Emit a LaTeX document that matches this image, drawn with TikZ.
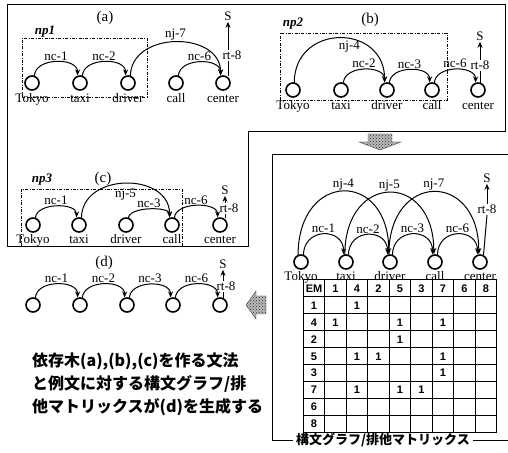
\documentclass[tikz,border=0pt]{standalone}
\usepackage{fontspec}
\setmainfont{Liberation Serif}
\setsansfont{Liberation Sans}
\newfontfamily\jpfont{Noto Sans CJK JP}
\usetikzlibrary{arrows.meta, positioning, matrix, patterns}

\tikzset{
    wnode/.style={circle, draw, line width=1.6pt, minimum size=14pt, inner sep=0pt, outer sep=0pt},
    word/.style={font=\fontsize{13}{14}\selectfont, inner sep=1pt, text height=8.5pt, text depth=2.5pt},
    lbl/.style={font=\fontsize{13}{14}\selectfont, inner sep=1pt},
    deparc/.style={-{Stealth[length=6pt,width=5pt]}, line width=1pt, shorten >=1pt, looseness=1.15},
    rtline/.style={line width=1pt},
    toS/.style={-{Stealth[length=6pt,width=5pt]}, line width=1pt},
    npbox/.style={draw, line width=0.5pt, dash pattern=on 3pt off 1.5pt on 0.8pt off 1.5pt},
    nptag/.style={font=\fontsize{13}{14}\selectfont\bfseries\itshape},
    ptag/.style={font=\fontsize{15}{16}\selectfont},
    panelframe/.style={line width=1pt},
    blockarrow/.style={draw=black!70, line width=0.4pt, preaction={fill=gray!55}, pattern=crosshatch dots, pattern color=black!80},
    emtable/.style={matrix of nodes, nodes in empty cells, column sep=-1pt, row sep=-1pt,
        nodes={draw, line width=1pt, minimum width=21.5pt, minimum height=16.9pt, inner sep=0pt,
        anchor=center, text height=8pt, text depth=0pt,
        font=\sffamily\bfseries\fontsize{11}{12}\selectfont}},
    jptext/.style={font=\jpfont\bfseries\fontsize{16}{23}\selectfont, align=left, inner sep=0pt},
    captext/.style={font=\jpfont\bfseries\fontsize{13}{14}\selectfont, fill=white, inner sep=3pt}
}

\begin{document}
\begin{tikzpicture}[x=1pt, y=1pt]
    \useasboundingbox (0,0) rectangle (508,452);

    % Frame round (a), (b), (c)
    \draw[panelframe] (7,447) -- (505,447) -- (505,320) -- (248,320) -- (248,205) -- (7,205) -- cycle;

    % (a)
    \node[ptag] (tag-a) at (105,434) {(a)};
    \node[nptag] (np1) at (45,420) {np1};
    \draw[npbox] (22,355) rectangle (147,414);
    \node[wnode] (a1) at (32,369) {};
    \node[wnode, right=34pt of a1] (a2) {};
    \node[wnode, right=34pt of a2] (a3) {};
    \node[wnode, right=34pt of a3] (a4) {};
    \node[wnode, right=33pt of a4] (a5) {};
    \node[word, below=3pt of a1] {Tokyo};
    \node[word, below=3pt of a2] {taxi};
    \node[word, below=3pt of a3] {driver};
    \node[word, below=3pt of a4] {call};
    \node[word, below=3pt of a5] {center};
    \draw[deparc] (a1.70) to[out=90, in=90] node[lbl, above] {nc-1} (a2.110);
    \draw[deparc] (a2.70) to[out=90, in=90] node[lbl, above] {nc-2} (a3.110);
    \draw[deparc] (a3.70) to[out=90, in=90, looseness=1.3] node[lbl, above] {nj-7} (a5.110);
    \draw[deparc] (a4.70) to[out=90, in=90] node[lbl, above] {nc-6} (a5.110);
    \node[lbl, above=15pt of a5, xshift=9pt] (rt-a) {rt-8};
    \node[lbl, above=28pt of rt-a, xshift=-4pt] (S-a) {S};
    \draw[rtline] (a5.north -| S-a) -- (rt-a.south -| S-a);
    \draw[toS] (rt-a.north -| S-a) -- (S-a.south);

    % (b)
    \node[ptag] (tag-b) at (370,432) {(b)};
    \node[nptag] (np2) at (293,428) {np2};
    \draw[npbox] (280,352) rectangle (447,419);
    \node[wnode] (b1) at (293,362) {};
    \node[wnode, right=34pt of b1] (b2) {};
    \node[wnode, right=32pt of b2] (b3) {};
    \node[wnode, right=31pt of b3] (b4) {};
    \node[wnode, right=32pt of b4] (b5) {};
    \node[word, below=3pt of b1] {Tokyo};
    \node[word, below=3pt of b2] {taxi};
    \node[word, below=3pt of b3] {driver};
    \node[word, below=3pt of b4] {call};
    \node[word, below=3pt of b5] {center};
    \draw[deparc] (b1.80) to[out=90, in=90, looseness=1.7] node[lbl, below=1pt, xshift=10pt] {nj-4} (b3.110);
    \draw[deparc] (b2.70) to[out=90, in=90] node[lbl, above] {nc-2} (b3.110);
    \draw[deparc] (b3.70) to[out=90, in=90] node[lbl, above] {nc-3} (b4.110);
    \draw[deparc] (b4.70) to[out=90, in=90] node[lbl, above] {nc-6} (b5.110);
    \node[lbl, above=12pt of b5, xshift=2pt] (rt-b) {rt-8};
    \node[lbl, above=18pt of rt-b] (S-b) {S};
    \draw[rtline] (b5.north -| S-b) -- (rt-b.south -| S-b);
    \draw[toS] (rt-b.north -| S-b) -- (S-b.south);

    % (c)
    \node[ptag] (tag-c) at (103,273) {(c)};
    \node[nptag] (np3) at (42,272) {np3};
    \draw[npbox] (21,206) rectangle (182,263);
    \node[wnode] (c1) at (33,227) {};
    \node[wnode, right=32pt of c1] (c2) {};
    \node[wnode, right=33pt of c2] (c3) {};
    \node[wnode, right=32pt of c3] (c4) {};
    \node[wnode, right=34pt of c4] (c5) {};
    \node[word, below=1.5pt of c1] {Tokyo};
    \node[word, below=1.5pt of c2] {taxi};
    \node[word, below=1.5pt of c3] {driver};
    \node[word, below=1.5pt of c4] {call};
    \node[word, below=1.5pt of c5] {center};
    \draw[deparc] (c1.70) to[out=90, in=90, looseness=1] node[lbl, above] {nc-1} (c2.110);
    \draw[deparc] (c2.70) to[out=90, in=90, looseness=1.35] node[lbl, below=4pt] {nj-5} (c4.110);
    \draw[deparc] (c3.70) to[out=90, in=90, looseness=0.75] node[lbl, above] {nc-3} (c4.110);
    \draw[deparc] (c4.70) to[out=90, in=90, looseness=1] node[lbl, above] {nc-6} (c5.110);
    \node[lbl, above=4pt of c5, xshift=9pt] (rt-c) {rt-8};
    \node[lbl, above=7pt of rt-c, xshift=-4pt] (S-c) {S};
    \draw[rtline] (c5.north -| S-c) -- (rt-c.south -| S-c);
    \draw[toS] (rt-c.north -| S-c) -- (S-c.south);

    % Block arrow down to the merged graph
    \filldraw[blockarrow] (368,318) -- (392,318) -- (392,310) -- (401,310) -- (380,302) -- (359,310) -- (368,310) -- cycle;

    % Merged graph and matrix
    \node[captext] (capt) at (383,12) {構文グラフ/排他マトリックス};
    \draw[panelframe] (capt.west) -- (272,12) -- (272,297) -- (508,297);
    \draw[panelframe] (capt.east) -- (508,12);
    \node[wnode] (m1) at (301,190) {};
    \node[wnode, right=31pt of m1] (m2) {};
    \node[wnode, right=30pt of m2] (m3) {};
    \node[wnode, right=31pt of m3] (m4) {};
    \node[wnode, right=31pt of m4] (m5) {};
    \node[word, below=2pt of m1] {Tokyo};
    \node[word, below=2pt of m2] {taxi};
    \node[word, below=2pt of m3] {driver};
    \node[word, below=2pt of m4] {call};
    \node[word, below=2pt of m5] {center};
    \draw[deparc] (m1.70) to[out=90, in=90, looseness=1.8] node[lbl, above] {nc-1} (m2.110);
    \draw[deparc] (m2.70) to[out=90, in=90, looseness=1.8] node[lbl, above] {nc-2} (m3.110);
    \draw[deparc] (m3.70) to[out=90, in=90, looseness=1.8] node[lbl, above] {nc-3} (m4.110);
    \draw[deparc] (m4.70) to[out=90, in=90, looseness=1.8] node[lbl, above] {nc-6} (m5.110);
    \draw[deparc] (m1.115) to[out=90, in=90, looseness=2.4] node[lbl, above] {nj-4} (m3.100);
    \draw[deparc] (m2.100) to[out=90, in=90, looseness=2.4] node[lbl, above] {nj-5} (m4.100);
    \draw[deparc] (m3.100) to[out=90, in=90, looseness=2.4] node[lbl, above] {nj-7} (m5.100);
    \node[lbl, above=40pt of m5, xshift=7pt] (rt-m) {rt-8};
    \node[lbl, above=20pt of rt-m] (S-m) {S};
    \draw[rtline] (m5.60 |- m5.north) -- (rt-m.south -| S-m);
    \draw[toS] (rt-m.north -| S-m) -- (S-m.south);

    \matrix[emtable] (em) at (400,96) {
        EM & 1 & 4 & 2 & 5 & 3 & 7 & 6 & 8 \\
        1  &   & 1 &   &   &   &   &   &   \\
        4  & 1 &   &   & 1 &   & 1 &   &   \\
        2  &   &   &   & 1 &   &   &   &   \\
        5  &   & 1 & 1 &   &   & 1 &   &   \\
        3  &   &   &   &   &   & 1 &   &   \\
        7  &   & 1 &   & 1 & 1 &   &   &   \\
        6  &   &   &   &   &   &   &   &   \\
        8  &   &   &   &   &   &   &   &   \\
    };

    % (d)
    \node[ptag] (tag-d) at (104,189) {(d)};
    \node[wnode] (d1) at (33,147) {};
    \node[wnode, right=33pt of d1] (d2) {};
    \node[wnode, right=33pt of d2] (d3) {};
    \node[wnode, right=32pt of d3] (d4) {};
    \node[wnode, right=33pt of d4] (d5) {};
    \draw[deparc] (d1.70) to[out=90, in=90] node[lbl, above] {nc-1} (d2.110);
    \draw[deparc] (d2.70) to[out=90, in=90] node[lbl, above] {nc-2} (d3.110);
    \draw[deparc] (d3.70) to[out=90, in=90] node[lbl, above] {nc-3} (d4.110);
    \draw[deparc] (d4.70) to[out=90, in=90] node[lbl, above] {nc-6} (d5.110);
    \node[lbl, above=6pt of d5, xshift=6pt] (rt-d) {rt-8};
    \node[lbl, above=11pt of rt-d, xshift=-3pt] (S-d) {S};
    \draw[rtline] (d5.north -| S-d) -- (rt-d.south -| S-d);
    \draw[toS] (rt-d.north -| S-d) -- (S-d.south);

    % Block arrow back to (d)
    \filldraw[blockarrow] (266,156) -- (256,156) -- (256,161) -- (246,147) -- (256,133) -- (256,138) -- (266,138) -- cycle;

    % Note
    \node[jptext, anchor=north west] (note) at (32,99)
        {依存木(a),(b),(c)を作る文法\\と例文に対する構文グラフ/排\\他マトリックスが(d)を生成する};
\end{tikzpicture}
\end{document}
